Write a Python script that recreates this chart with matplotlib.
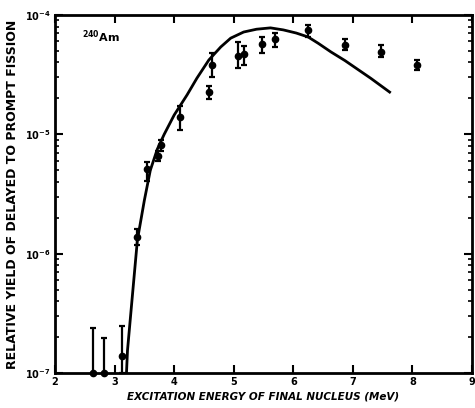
import numpy as np
import matplotlib.pyplot as plt
from matplotlib.ticker import FixedLocator, LogLocator, NullFormatter

# calculated curve
curve_e = [3.20, 3.217, 3.30, 3.383, 3.50, 3.60, 3.717, 3.833, 4.0, 4.217,
           4.383, 4.583, 4.783, 4.95, 5.167, 5.383, 5.617, 5.833, 6.05, 6.25,
           6.417, 6.633, 6.867, 7.083, 7.30, 7.617]
curve_y = [1.0e-7, 1.55e-7, 4.5e-7, 1.3e-6, 2.8e-6, 5.0e-6, 7.5e-6, 1.0e-5, 1.45e-5, 2.14e-5,
           2.96e-5, 4.2e-5, 5.4e-5, 6.4e-5, 7.2e-5, 7.6e-5, 7.8e-5, 7.5e-5, 7.06e-5, 6.54e-5,
           5.8e-5, 4.9e-5, 4.15e-5, 3.5e-5, 2.95e-5, 2.26e-5]

# measured points
meas_e = [2.63, 2.83, 3.13, 3.38, 3.55, 3.73, 3.78, 4.10, 4.58, 4.63,
          5.07, 5.17, 5.47, 5.70, 6.25, 6.87, 7.48, 8.07]
meas_y = [1.0e-7, 1.0e-7, 1.4e-7, 1.38e-6, 5.1e-6, 6.6e-6, 8.1e-6, 1.4e-5, 2.27e-5, 3.8e-5,
          4.5e-5, 4.7e-5, 5.7e-5, 6.3e-5, 7.5e-5, 5.6e-5, 4.9e-5, 3.8e-5]
meas_lo = [1.0e-7, 1.0e-7, 1.0e-7, 1.18e-6, 4.1e-6, 6.0e-6, 7.3e-6, 1.09e-5, 1.98e-5, 3.0e-5,
           3.6e-5, 3.8e-5, 4.8e-5, 5.4e-5, 6.6e-5, 5.1e-5, 4.45e-5, 3.46e-5]
meas_hi = [2.4e-7, 1.97e-7, 2.5e-7, 1.6e-6, 5.9e-6, 7.2e-6, 9.0e-6, 1.73e-5, 2.54e-5, 4.8e-5,
           5.9e-5, 5.5e-5, 6.5e-5, 7.07e-5, 8.2e-5, 6.3e-5, 5.6e-5, 4.2e-5]

x_ticks = [2, 3, 4, 5, 6, 7, 8, 9]
y_ticks = [1e-7, 1e-6, 1e-5, 1e-4]
y_tick_labels = ['10$^{-7}$', '10$^{-6}$', '10$^{-5}$', '10$^{-4}$']

plt.rcParams['font.family'] = 'DejaVu Sans'
plt.rcParams['font.weight'] = 'bold'

fig = plt.figure(figsize=(4.75, 4.08), dpi=100)
ax = fig.add_axes([55 / 475, 35 / 408, 417 / 475, 358 / 408])

ax.plot(curve_e, curve_y, color='black', linewidth=2.0)

meas_y = np.array(meas_y)
yerr = np.array([meas_y - np.array(meas_lo), np.array(meas_hi) - meas_y])
ax.errorbar(meas_e, meas_y, yerr=yerr, fmt='o', color='black', markersize=4.5,
            elinewidth=1.6, capsize=2.5, capthick=1.6, clip_on=False, zorder=3)

ax.set_yscale('log')
ax.set_xlim(2, 9)
ax.set_ylim(1e-7, 1e-4)

ax.xaxis.set_major_locator(FixedLocator(x_ticks))
ax.set_xticklabels([str(t) for t in x_ticks], fontsize=7, fontweight='bold')
ax.yaxis.set_major_locator(FixedLocator(y_ticks))
ax.set_yticklabels(y_tick_labels, fontsize=7, fontweight='bold')
ax.yaxis.set_minor_locator(LogLocator(base=10, subs=np.arange(2, 10)))
ax.yaxis.set_minor_formatter(NullFormatter())

ax.tick_params(which='major', direction='in', length=6, width=1.5, top=True, right=True, pad=3)
ax.tick_params(which='minor', direction='in', length=3, width=1.2, right=True)
for s in ax.spines.values():
    s.set_linewidth(2.0)

ax.set_xlabel('EXCITATION ENERGY OF FINAL NUCLEUS (MeV)', fontsize=7.5, fontweight='bold',
              fontstyle='italic', labelpad=3)
ax.set_ylabel('RELATIVE YIELD OF DELAYED TO PROMPT FISSION', fontsize=9, fontweight='bold',
              labelpad=4)

ax.text(0.065, 0.925, '$^{\\mathbf{240}}$Am', transform=ax.transAxes, fontsize=8,
        fontweight='bold')

fig.savefig('out.png', dpi=100)
